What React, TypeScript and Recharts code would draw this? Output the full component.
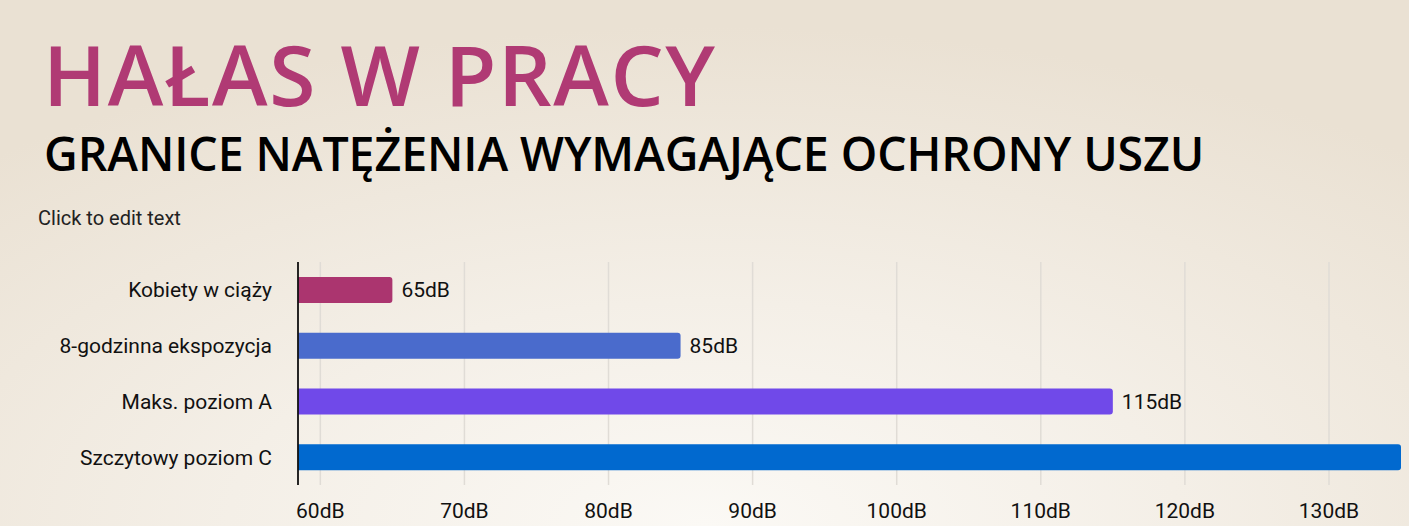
import { Bar, BarChart, CartesianGrid, Cell, LabelList, XAxis, YAxis } from "recharts"

const categories = [
  "Kobiety w ciąży",
  "8-godzinna ekspozycja",
  "Maks. poziom A",
  "Szczytowy poziom C",
]
const levels = [65, 85, 115, 135]
const barColors = ["#ab356f", "#4a6bcc", "#7049e9", "#0169cf"]
const tickValues = [60, 70, 80, 90, 100, 110, 120, 130]

const data = categories.map((name, i) => ({ name, value: levels[i] }))

const FONT = "Roboto, 'Noto Sans', sans-serif"

export default function App() {
  return (
    <div
      style={{
        position: "absolute",
        left: 0,
        top: 0,
        width: 1409,
        height: 526,
        overflow: "hidden",
        background:
          "radial-gradient(ellipse 75% 95% at 50% 100%, #fbf9f5 0%, #f4efe7 45%, #eae1d3 100%)",
        fontFamily: FONT,
      }}
    >
      <div
        style={{
          position: "absolute",
          left: 43,
          top: 24,
          fontFamily: "'Open Sans', sans-serif",
          fontSize: 84,
          fontWeight: 600,
          color: "#b03a74",
          lineHeight: "100px",
          whiteSpace: "nowrap",
          letterSpacing: 1.6,
        }}
      >
        HAŁAS W PRACY
      </div>
      <div
        style={{
          position: "absolute",
          left: 44,
          top: 125,
          fontFamily: "'Open Sans', sans-serif",
          fontSize: 46.5,
          fontWeight: 600,
          color: "#000",
          lineHeight: "56px",
          whiteSpace: "nowrap",
          letterSpacing: -0.1,
        }}
      >
        GRANICE NATĘŻENIA WYMAGAJĄCE OCHRONY USZU
      </div>
      <div
        style={{
          position: "absolute",
          left: 38,
          top: 206,
          fontSize: 20,
          color: "#222",
          lineHeight: "24px",
        }}
      >
        Click to edit text
      </div>
      <div style={{ position: "absolute", left: 0, top: 262 }}>
        <BarChart
          width={1548}
          height={265}
          data={data}
          layout="vertical"
          margin={{ top: 0, right: 0, bottom: 0, left: 0 }}
          barSize={26}
        >
          <CartesianGrid horizontal={false} stroke="#e0dcd6" strokeWidth={1.5} />
          <XAxis
            type="number"
            domain={[58.45, 145.2]}
            allowDataOverflow
            ticks={tickValues}
            tickFormatter={(v) => `${v}dB`}
            axisLine={false}
            tickLine={false}
            tickSize={0}
            tickMargin={18}
            height={42}
            tick={{ fill: "#111", fontSize: 21, fontFamily: FONT }}
          />
          <YAxis
            type="category"
            dataKey="name"
            width={298}
            axisLine={{ stroke: "#111", strokeWidth: 1.8 }}
            tickLine={false}
            tickSize={0}
            tickMargin={26}
            tick={{ fill: "#111", fontSize: 21, fontFamily: FONT }}
          />
          <Bar dataKey="value" radius={[0, 3, 3, 0]} isAnimationActive={false}>
            {data.map((d, i) => (
              <Cell key={d.name} fill={barColors[i]} />
            ))}
            <LabelList
              dataKey="value"
              position="right"
              offset={9}
              formatter={(v: number) => `${v}dB`}
              style={{ fill: "#111", fontSize: 21, fontFamily: FONT }}
            />
          </Bar>
        </BarChart>
      </div>
    </div>
  )
}
